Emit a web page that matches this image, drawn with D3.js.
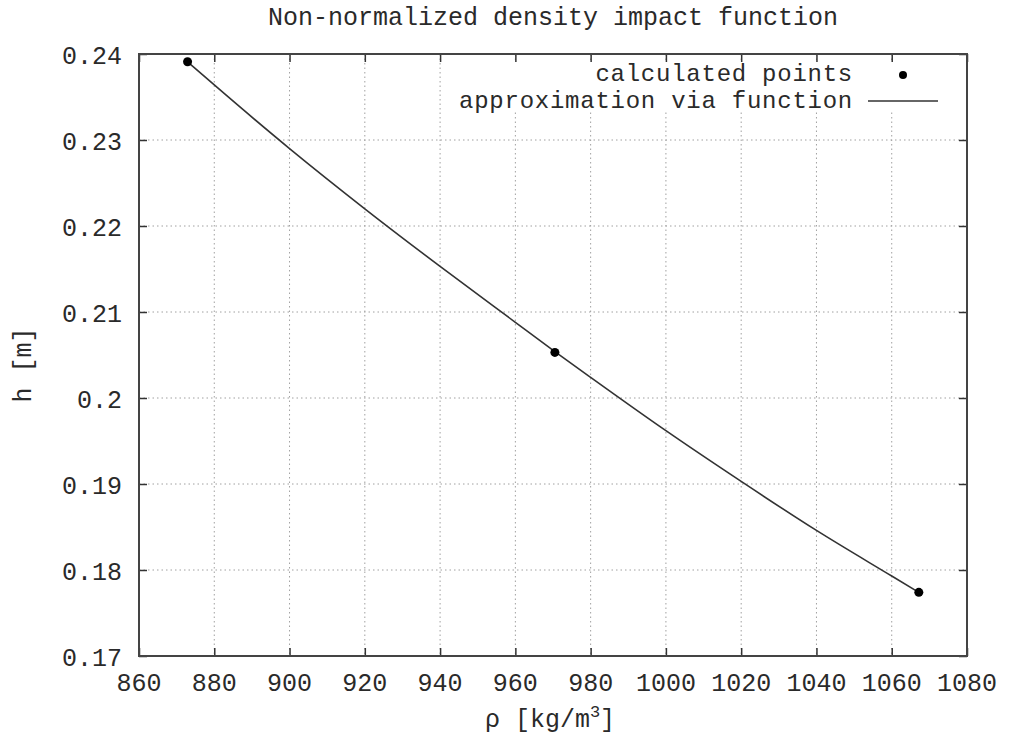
<!DOCTYPE html>
<html>
<head>
<meta charset="utf-8">
<script src="https://cdn.jsdelivr.net/npm/d3@7"></script>
<style>
  html, body { margin: 0; padding: 0; background: #fff; }
  svg { display: block; }
  text { font-family: "Liberation Mono", "DejaVu Sans Mono", monospace; fill: #2a2a2a; }
</style>
</head>
<body>
<svg id="chart" width="1009" height="737"></svg>
<script>
// Calculated density / height pairs
const pointRho = [872.9, 970.5, 1067.2];
const pointH = [0.2391, 0.2053, 0.1774];

// Approximating function sampled along the density range
const fitRho = [872.9, 880, 900, 920, 940, 960, 970.5, 980, 1000, 1020, 1040, 1060, 1067.2];
const fitH = [0.2391, 0.2364, 0.2290, 0.2220, 0.2153, 0.2088, 0.2054, 0.2024, 0.1962, 0.1903, 0.1846, 0.1793, 0.1774];

// Axis ticks
const xTicks = [860, 880, 900, 920, 940, 960, 980, 1000, 1020, 1040, 1060, 1080];
const yTicks = [0.17, 0.18, 0.19, 0.2, 0.21, 0.22, 0.23, 0.24];
const yTickLabels = ["0.17", "0.18", "0.19", "0.2", "0.21", "0.22", "0.23", "0.24"];

const titleText = "Non-normalized density impact function";
const legendLabels = ["calculated points", "approximation via function"];

const svg = d3.select("#chart");
const L = 139, R = 967, T = 54, B = 656;
const FS = 25;

const x = d3.scaleLinear().domain([860, 1080]).range([L, R]);
const y = d3.scaleLinear().domain([0.17, 0.24]).range([B, T]);

// Grid
const grid = svg.append("g")
  .attr("stroke", "#a0a0a0").attr("stroke-width", 1).attr("stroke-dasharray", "1.5,3");
grid.selectAll("line.gx").data(xTicks.slice(1, -1)).join("line")
  .attr("x1", d => x(d)).attr("x2", d => x(d)).attr("y1", T).attr("y2", B);
grid.selectAll("line.gy").data(yTicks.slice(1, -1)).join("line")
  .attr("y1", d => y(d)).attr("y2", d => y(d)).attr("x1", L).attr("x2", R);

// Legend background keeps grid out of the key area
svg.append("rect").attr("x", 452).attr("y", 60).attr("width", 500).attr("height", 52).attr("fill", "#fff");

// Axes with inward ticks (mirrored on top/right)
function styleAxis(g) {
  g.select(".domain").remove();
  g.selectAll(".tick line").attr("stroke", "#333").attr("stroke-width", 1.5);
  g.selectAll("text").remove();
}
svg.append("g").attr("transform", `translate(0,${B})`)
  .call(d3.axisBottom(x).tickValues(xTicks).tickSize(-8)).call(styleAxis);
svg.append("g").attr("transform", `translate(0,${T})`)
  .call(d3.axisTop(x).tickValues(xTicks).tickSize(-8)).call(styleAxis);
svg.append("g").attr("transform", `translate(${L},0)`)
  .call(d3.axisLeft(y).tickValues(yTicks).tickSize(-8)).call(styleAxis);
svg.append("g").attr("transform", `translate(${R},0)`)
  .call(d3.axisRight(y).tickValues(yTicks).tickSize(-8)).call(styleAxis);

// Tick labels
svg.append("g").selectAll("text").data(xTicks).join("text")
  .attr("x", d => x(d)).attr("y", 691)
  .attr("text-anchor", "middle").attr("font-size", FS)
  .text(d => String(d));
svg.append("g").selectAll("text").data(yTicks).join("text")
  .attr("x", 122).attr("y", d => y(d) + 10)
  .attr("text-anchor", "end").attr("font-size", FS)
  .text((d, i) => yTickLabels[i]);

// Frame
svg.append("rect").attr("x", L).attr("y", T).attr("width", R - L).attr("height", B - T)
  .attr("fill", "none").attr("stroke", "#444").attr("stroke-width", 2);

// Approximation curve
const fitData = fitRho.map((r, i) => [r, fitH[i]]);
svg.append("path").datum(fitData)
  .attr("fill", "none").attr("stroke", "#333").attr("stroke-width", 1.6)
  .attr("d", d3.line().x(d => x(d[0])).y(d => y(d[1])).curve(d3.curveMonotoneX));

// Calculated points
svg.append("g").selectAll("circle").data(pointRho).join("circle")
  .attr("cx", d => x(d)).attr("cy", (d, i) => y(pointH[i])).attr("r", 4.5)
  .attr("fill", "#000");

// Legend
svg.append("text").attr("x", 853).attr("y", 81).attr("text-anchor", "end").attr("font-size", 24)
  .attr("letter-spacing", 0.75).text(legendLabels[0]);
svg.append("circle").attr("cx", 903).attr("cy", 75).attr("r", 4).attr("fill", "#000");
svg.append("text").attr("x", 853).attr("y", 108).attr("text-anchor", "end").attr("font-size", 24)
  .attr("letter-spacing", 0.75).text(legendLabels[1]);
svg.append("line").attr("x1", 868).attr("x2", 938).attr("y1", 101).attr("y2", 101)
  .attr("stroke", "#333").attr("stroke-width", 1.6);

// Title
svg.append("text").attr("x", (L + R) / 2).attr("y", 25).attr("text-anchor", "middle")
  .attr("font-size", FS).text(titleText);

// Axis titles
const xl = svg.append("text").attr("x", 550).attr("y", 727).attr("text-anchor", "middle").attr("font-size", FS);
xl.append("tspan").text("ρ [kg/m");
xl.append("tspan").attr("font-size", 17).attr("dy", -10).text("3");
xl.append("tspan").attr("dy", 10).text("]");

svg.append("text").attr("transform", "translate(31,365) rotate(-90)")
  .attr("text-anchor", "middle").attr("font-size", FS).text("h [m]");
</script>
</body>
</html>
